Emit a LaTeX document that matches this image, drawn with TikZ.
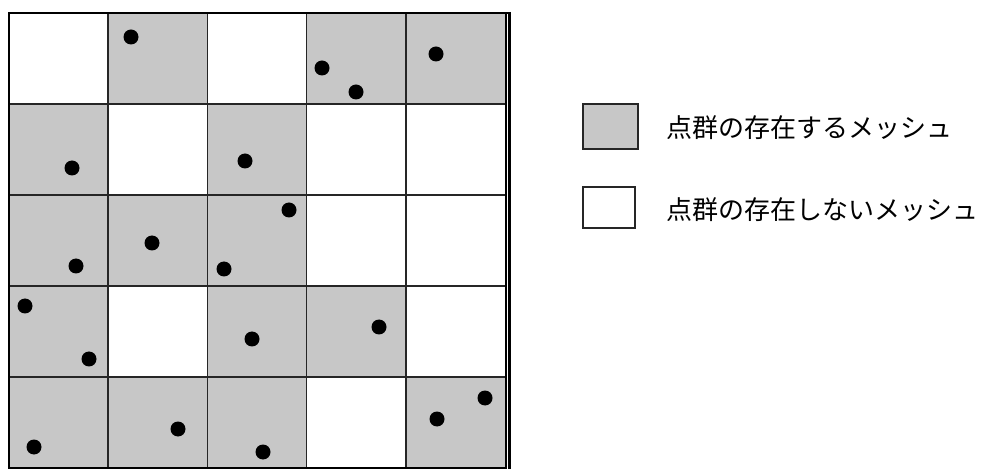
\documentclass[tikz,border=0pt]{standalone}
\usepackage{fontspec}
\newfontfamily\jpfont{Noto Sans CJK JP}
\definecolor{meshgray}{gray}{0.78}
\begin{document}
\begin{tikzpicture}[x=1pt,y=-1pt,
  shaded/.style={fill=meshgray},
  gridline/.style={line width=1.4pt,draw=black!85},
  dotpt/.style={fill=black},
  legendbox/.style={draw=black!85,line width=1.3pt},
  legendtext/.style={anchor=west,inner sep=0pt,font=\jpfont\fontsize{26}{26}\selectfont}]
\useasboundingbox (0,0) rectangle (983,470);
\def\xo{8.5}\def\yo{13}\def\cw{99.4}\def\ch{91}
% shaded cells
\foreach \c/\r in {1/0,3/0,4/0,0/1,2/1,0/2,1/2,2/2,0/3,2/3,3/3,0/4,1/4,2/4,4/4}
  \fill[shaded] ({\xo+\c*\cw},{\yo+\r*\ch}) rectangle ({\xo+(\c+1)*\cw},{\yo+(\r+1)*\ch});
% grid lines
\foreach \i in {1,...,4} {
  \draw[gridline] ({\xo+\i*\cw},\yo) -- ({\xo+\i*\cw},{\yo+5*\ch});
  \draw[gridline] (\xo,{\yo+\i*\ch}) -- ({\xo+5*\cw},{\yo+\i*\ch});
}
\draw[line width=2pt] (\xo,\yo) rectangle ({\xo+5*\cw},{\yo+5*\ch});
\draw[line width=2.5pt] (509.5,12) -- (509.5,469);
\draw[line width=2pt] ({\xo+5*\cw},\yo) -- (510.5,\yo);
% points
\foreach \px/\py in {131/37,322/68,356/92,436/54,72/168,245/161,289/210,224/269,76/266,152/243,25/306,89/359,252/339,379/327,34/447,178/429,263/452,437/419,485/398}
  \fill[dotpt] (\px,\py) circle (7.5);
% legend
\node[legendbox,shaded,minimum width=55pt,minimum height=45pt,inner sep=0pt] (boxA) at (610.5,126.5) {};
\node[legendbox,fill=white,minimum width=52pt,minimum height=41pt,inner sep=0pt] (boxB) at (609,207.5) {};
\node[legendtext] (textA) at (666,128) {点群の存在するメッシュ};
\node[legendtext] (textB) at (666,210) {点群の存在しないメッシュ};
\end{tikzpicture}
\end{document}
